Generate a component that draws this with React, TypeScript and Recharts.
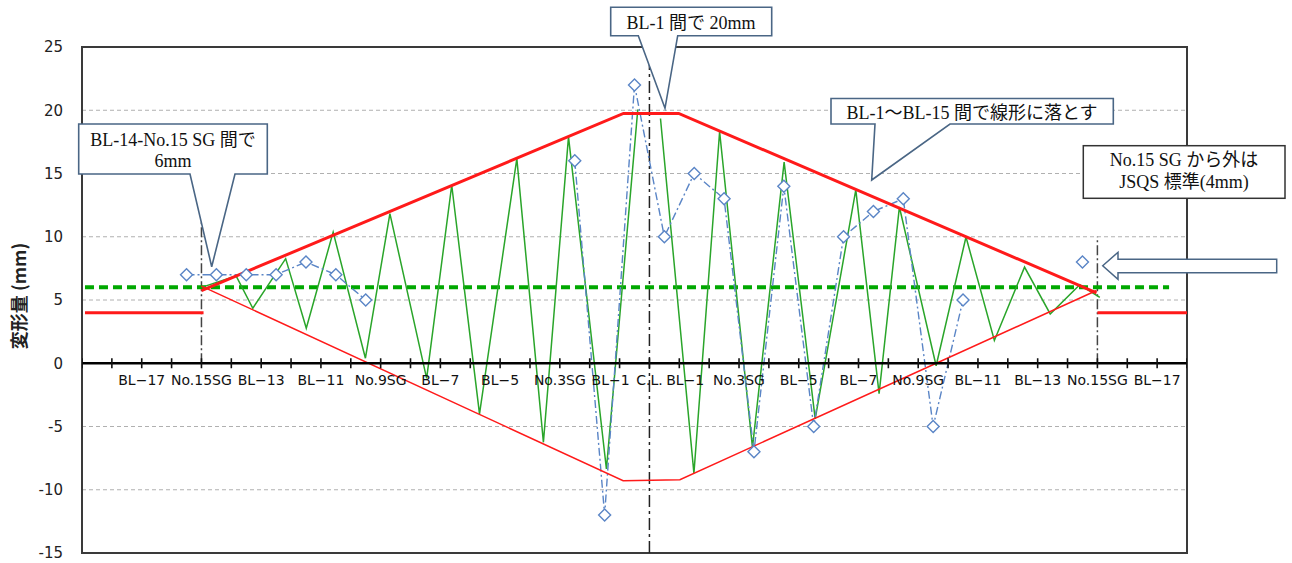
import React from "react";
import {
  ComposedChart,
  Line,
  Scatter,
  XAxis,
  YAxis,
  CartesianGrid,
  ReferenceLine,
  ReferenceArea,
} from "recharts";

// x is measured in BL pitches from the centre line (C.L. = 0)
const axisTicks = [
  -19, -18, -17, -16, -15, -14, -13, -12, -11, -10, -9, -8, -7, -6, -5, -4, -3, -2, -1,
  0, 1, 2, 3, 4, 5, 6, 7, 8, 9, 10, 11, 12, 13, 14, 15, 16, 17, 18,
];
const labelPos = [-17, -15, -13, -11, -9, -7, -5, -3, -1.3, 0, 1.2, 3, 5, 7, 9, 11, 13, 15, 17];
const labelText = [
  "BL−17", "No.15SG", "BL−13", "BL−11", "No.9SG", "BL−7", "BL−5", "No.3SG", "BL−1", "C.L.",
  "BL−1", "No.3SG", "BL−5", "BL−7", "No.9SG", "BL−11", "BL−13", "No.15SG", "BL−17",
];
const yTicks = [-15, -10, -5, 0, 5, 10, 15, 20, 25];

// measured deformation (one value per block, null = not measured)
const measured = [
  null, null, null, 7, 7, 7, 7, 8, 7, 5, null, null, null, null, null, null, 16, -12, 22, 10,
  15, 13, -7, 14, -5, 10, 12, 13, -5, 5, null, null, null, 8, null, null, null,
];

// zigzag (green) left and right of C.L.
const zigLeftX = [-15, -13.84, -13.28, -12.18, -11.49, -10.59, -9.51, -8.69, -7.46, -6.62, -5.69, -4.44, -3.55, -2.71, -1.44, -0.39];
const zigLeftY = [6.0, 6.9, 4.35, 8.27, 2.77, 10.37, 0.4, 11.83, -1.2, 14.07, -4.0, 16.18, -6.25, 17.9, -8.36, 20.06];
const zigRightX = [0.37, 1.49, 2.35, 3.45, 4.51, 5.55, 6.91, 7.69, 8.37, 9.6, 10.6, 11.55, 12.56, 13.42, 14.41, 15.08];
const zigRightY = [19.35, -8.7, 18.3, -6.65, 15.9, -4.4, 13.7, -2.4, 12.35, -0.2, 9.98, 1.8, 7.6, 3.9, 6.2, 5.2];

// tolerance envelope
const upperX = [-15, -0.87, 0.98, 14.97];
const upperY = [5.75, 19.75, 19.75, 5.57];
const lowerX = [-15, -0.88, 1.02, 14.97];
const lowerY = [6.1, -9.29, -9.2, 5.75];

// JSQS standard (4mm) outside No.15 SG, and 6mm line
const jsqsLeftX = [-18.9, -14.93];
const jsqsRightX = [15.0, 18];
const jsqsY = [4, 4];
const sixX = [-18.9, 17.4];
const sixY = [6, 6];

const pts = (xs: number[], ys: (number | null)[]) => xs.map((x, i) => ({ x, y: ys[i] }));

const measuredData = measured.map((y, i) => ({ x: i - 18.5, y }));
const tickData = axisTicks.map((x) => ({ x, y: 0 }));
const labelData = labelPos.map((x, i) => ({ x, y: 0, label: labelText[i] }));

const RED = "#ff1a1a";
const GREEN = "#2aa52a";
const BLUE = "#5a85c6";
const CALLOUT = "#4a6685";
const serif = "'Liberation Serif', 'Noto Sans CJK JP', serif";

const TickMark = (p: any) =>
  p.cx == null ? <g /> : <line x1={p.cx} x2={p.cx} y1={p.cy - 5} y2={p.cy + 5} stroke="#111" strokeWidth={1.6} />;

const TickLabel = (p: any) =>
  p.cx == null ? (
    <g />
  ) : (
    <text x={p.cx} y={p.cy + 22} textAnchor="middle" fontSize={14} fontFamily="'DejaVu Sans', sans-serif" fill="#111">
      {p.payload.label}
    </text>
  );

const Diamond = (p: any) => {
  if (p.value == null || p.cy == null || isNaN(p.cy)) return <g key={p.index} />;
  const r = 6;
  return (
    <polygon
      key={p.index}
      points={`${p.cx},${p.cy - r} ${p.cx + r},${p.cy} ${p.cx},${p.cy + r} ${p.cx - r},${p.cy}`}
      fill="#fff"
      stroke={BLUE}
      strokeWidth={1.4}
    />
  );
};

export default function App() {
  return (
    <div style={{ position: "absolute", left: 0, top: 0, width: 1292, height: 563, background: "#fff" }}>
      <ComposedChart width={1292} height={563} margin={{ top: 47, right: 105, bottom: 10, left: 22 }}>
        <CartesianGrid vertical={false} stroke="#b0b0b0" strokeDasharray="4 3" />
        <XAxis type="number" dataKey="x" domain={[-19, 18]} hide allowDataOverflow />
        <YAxis
          type="number"
          domain={[-15, 25]}
          ticks={yTicks}
          interval={0}
          axisLine={false}
          tickLine={false}
          tickSize={0}
          tickMargin={19}
          width={60}
          tick={{ fontSize: 15, fill: "#222", fontFamily: "'DejaVu Sans', sans-serif" }}
        />
        <ReferenceArea x1={-19} x2={18} y1={-15} y2={25} fill="none" stroke="#3a3a3a" strokeWidth={2} />
        <ReferenceLine x={0} stroke="#222" strokeWidth={1.5} strokeDasharray="12 4 3 4" />
        <ReferenceLine segment={[{ x: -15, y: 0 }, { x: -15, y: 12 }]} stroke="#444" strokeWidth={1.5} strokeDasharray="10 3 2 3" />
        <ReferenceLine segment={[{ x: 15, y: 0 }, { x: 15, y: 10 }]} stroke="#444" strokeWidth={1.5} strokeDasharray="10 3 2 3" />

        <Line data={pts(sixX, sixY)} dataKey="y" stroke="#00a800" strokeWidth={4} strokeDasharray="9 5" dot={false} activeDot={false} isAnimationActive={false} />
        <Line data={pts(jsqsLeftX, jsqsY)} dataKey="y" stroke={RED} strokeWidth={3} dot={false} activeDot={false} isAnimationActive={false} />
        <Line data={pts(jsqsRightX, jsqsY)} dataKey="y" stroke={RED} strokeWidth={3} dot={false} activeDot={false} isAnimationActive={false} />
        <Line data={pts(zigLeftX, zigLeftY)} dataKey="y" stroke={GREEN} strokeWidth={1.5} dot={false} activeDot={false} isAnimationActive={false} />
        <Line data={pts(zigRightX, zigRightY)} dataKey="y" stroke={GREEN} strokeWidth={1.5} dot={false} activeDot={false} isAnimationActive={false} />
        <Line data={measuredData} dataKey="y" stroke={BLUE} strokeWidth={1.4} strokeDasharray="8 3 2 3" dot={Diamond} activeDot={false} isAnimationActive={false} />
        <Line data={pts(upperX, upperY)} dataKey="y" stroke={RED} strokeWidth={3} dot={false} activeDot={false} isAnimationActive={false} />
        <Line data={pts(lowerX, lowerY)} dataKey="y" stroke={RED} strokeWidth={1.5} dot={false} activeDot={false} isAnimationActive={false} />

        <ReferenceLine y={0} stroke="#000" strokeWidth={2.5} />
        <Scatter data={tickData} dataKey="y" shape={TickMark} isAnimationActive={false} />
        <Scatter data={labelData} dataKey="y" shape={TickLabel} isAnimationActive={false} />
      </ComposedChart>

      <svg width={1292} height={563} style={{ position: "absolute", left: 0, top: 0, pointerEvents: "none" }}>
        <text transform="translate(26,296) rotate(-90)" textAnchor="middle" fontSize={18} fontWeight="bold" fontFamily="'Noto Sans CJK JP', sans-serif" fill="#222">
          変形量 (mm)
        </text>

        <path d="M78.7 124 H267.3 V174 H235 L211.7 266.7 L190 174 H78.7 Z" fill="#fff" stroke={CALLOUT} strokeWidth={1.6} />
        <text x={173} y={146} textAnchor="middle" fontSize={18} fontFamily={serif} fill="#111">BL-14-No.15 SG 間で</text>
        <text x={173} y={167} textAnchor="middle" fontSize={18} fontFamily={serif} fill="#111">6mm</text>

        <path d="M610.7 7.3 H771.7 V35.7 H677.7 L665 108.3 L638.3 35.7 H610.7 Z" fill="#fff" stroke={CALLOUT} strokeWidth={1.6} />
        <text x={691} y={29} textAnchor="middle" fontSize={18} fontFamily={serif} fill="#111">BL-1 間で 20mm</text>

        <path d="M831 98.5 H1113.3 V124 H950 L871.7 180 L875 124 H831 Z" fill="#fff" stroke={CALLOUT} strokeWidth={1.6} />
        <text x={972} y={119} textAnchor="middle" fontSize={18} fontFamily={serif} fill="#111">BL-1～BL-15 間で線形に落とす</text>

        <rect x={1083.3} y={145.7} width={201.7} height={52.6} fill="#fff" stroke="#333" strokeWidth={1.5} />
        <text x={1184} y={166} textAnchor="middle" fontSize={18} fontFamily={serif} fill="#111">No.15 SG から外は</text>
        <text x={1184} y={188} textAnchor="middle" fontSize={18} fontFamily={serif} fill="#111">JSQS 標準(4mm)</text>

        <path d="M1102.7 265.7 L1118 252.3 V259.3 H1276.7 V272.7 H1118 V279.3 Z" fill="#fff" stroke={CALLOUT} strokeWidth={1.5} />
      </svg>
    </div>
  );
}
